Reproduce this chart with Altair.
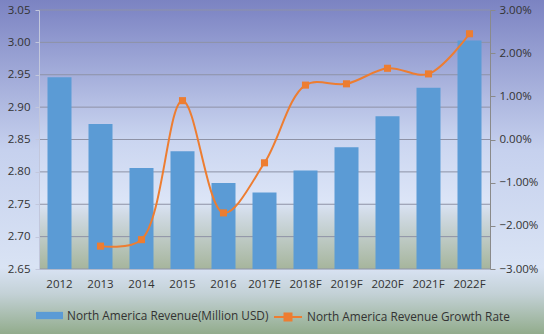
import altair as alt
import pandas as pd

years = ["2012", "2013", "2014", "2015", "2016", "2017E", "2018F", "2019F", "2020F", "2021F", "2022F"]
revenue = [2.946, 2.874, 2.806, 2.832, 2.783, 2.768, 2.802, 2.838, 2.886, 2.930, 3.003]
growth_pct = [None, -2.47, -2.32, 0.90, -1.70, -0.54, 1.26, 1.29, 1.65, 1.52, 2.45]

bar_name = "North America Revenue(Million USD)"
line_name = "North America Revenue Growth Rate"

rev_ticks = [2.65, 2.70, 2.75, 2.80, 2.85, 2.90, 2.95, 3.00, 3.05]
growth_ticks = [-0.03, -0.02, -0.01, 0.0, 0.01, 0.02, 0.03]

df = pd.DataFrame({
    "year": years,
    "revenue": revenue,
    "growth": [g / 100 if g is not None else None for g in growth_pct],
    "s1": bar_name,
    "s2": line_name,
})
dline = df.dropna(subset=["growth"])
dgrid = pd.DataFrame({"tick": rev_ticks})

W, H = 451, 259
PL, PT, PR, PB = 39, 10, 54, 65
FONT = "Open Sans"
TXT = "#333333"

outer_grad = alt.Gradient(
    gradient="linear", x1=0, x2=0, y1=0, y2=1,
    stops=[
        alt.GradientStop(offset=0.0, color="#7B83C2"),
        alt.GradientStop(offset=0.45, color="#C6D1EE"),
        alt.GradientStop(offset=0.80, color="#D9E3F4"),
        alt.GradientStop(offset=0.88, color="#C3D1D6"),
        alt.GradientStop(offset=1.0, color="#92AC8C"),
    ],
)
plot_grad = alt.Gradient(
    gradient="linear", x1=0, x2=0, y1=0, y2=1,
    stops=[
        alt.GradientStop(offset=0.0, color="#7F87C5"),
        alt.GradientStop(offset=0.50, color="#CAD5F0"),
        alt.GradientStop(offset=0.74, color="#DCE5F7"),
        alt.GradientStop(offset=0.79, color="#D0DAE4"),
        alt.GradientStop(offset=1.0, color="#A6B59C"),
    ],
)

one = pd.DataFrame({"k": [0]})
bg = alt.Chart(one).mark_rect(fill=outer_grad).encode(
    x=alt.value(-PL), x2=alt.value(W + PR), y=alt.value(-PT), y2=alt.value(H + PB)
)
plotbg = alt.Chart(one).mark_rect(fill=plot_grad).encode(
    x=alt.value(0), x2=alt.value(W), y=alt.value(0), y2=alt.value(H)
)

rscale = alt.Scale(domain=[2.65, 3.05], zero=False, nice=False)
grid = alt.Chart(dgrid).mark_rule(color="#8E92A6", strokeWidth=1).encode(
    y=alt.Y("tick:Q", scale=rscale, axis=None),
    x=alt.value(0), x2=alt.value(W),
)

xenc = alt.X(
    "year:N", sort=years,
    scale=alt.Scale(paddingInner=0, paddingOuter=0),
    axis=alt.Axis(title=None, labelAngle=0, ticks=False, domain=False, labelPadding=9,
                  labelFont=FONT, labelFontSize=11.5, labelColor=TXT, grid=False, zindex=2),
)

bars = alt.Chart(df).mark_bar(size=24, clip=True).encode(
    x=xenc,
    y=alt.Y("revenue:Q", scale=rscale,
            axis=alt.Axis(title=None, orient="left", values=rev_ticks, format=".2f",
                          grid=False, zindex=2,
                          domain=True, domainColor="#C2C7DC", ticks=True, tickColor="#C2C7DC",
                          tickSize=4, labelPadding=5, labelFont=FONT, labelFontSize=11.5,
                          labelColor=TXT)),
    fill=alt.Fill("s1:N", scale=alt.Scale(range=["#5B9BD5"]),
                  legend=alt.Legend(orient="none", legendX=-3, legendY=292, title=None,
                                    symbolType="M-1,-0.27H1V0.27H-1Z", symbolSize=729,
                                    symbolStrokeWidth=0, labelFont=FONT, labelFontSize=11.8,
                                    labelColor=TXT, labelOffset=4, padding=0, labelLimit=0)),
)

gscale = alt.Scale(domain=[-0.03, 0.03], nice=False, zero=False)
line = alt.Chart(dline).mark_line(interpolate="catmull-rom", strokeWidth=2).encode(
    x=alt.X("year:N", sort=years),
    y=alt.Y("growth:Q", scale=gscale,
            axis=alt.Axis(title=None, orient="right", values=growth_ticks, format=".2%",
                          grid=False, domain=True, domainColor="#8A8A8A", ticks=True, zindex=2,
                          tickColor="#8A8A8A", tickSize=5, labelPadding=4, labelFont=FONT,
                          labelFontSize=11.5, labelColor=TXT)),
    stroke=alt.Stroke("s2:N", scale=alt.Scale(range=["#ED7D31"]),
                      legend=alt.Legend(orient="none", legendX=234, legendY=292, title=None,
                                        symbolType="M-1,0H1M-0.25,-0.25H0.25V0.25H-0.25Z",
                                        symbolSize=784, symbolFillColor="#ED7D31",
                                        symbolStrokeWidth=2, labelFont=FONT, labelFontSize=11.8,
                                        labelColor=TXT, labelOffset=4, padding=0, labelLimit=0)),
)
points = alt.Chart(dline).mark_square(size=50, color="#ED7D31", opacity=1).encode(
    x=alt.X("year:N", sort=years),
    y=alt.Y("growth:Q", scale=gscale, axis=None),
)

chart = alt.layer(bg, plotbg, grid, bars, line, points).resolve_scale(
    y="independent", fill="independent", stroke="independent"
).properties(
    width=W, height=H,
    padding={"left": PL, "top": PT, "right": PR, "bottom": PB},
    autosize=alt.AutoSizeParams(type="none"),
).configure_view(stroke=None)

chart.save("out.html", embed_options={"renderer": "svg", "actions": False})
